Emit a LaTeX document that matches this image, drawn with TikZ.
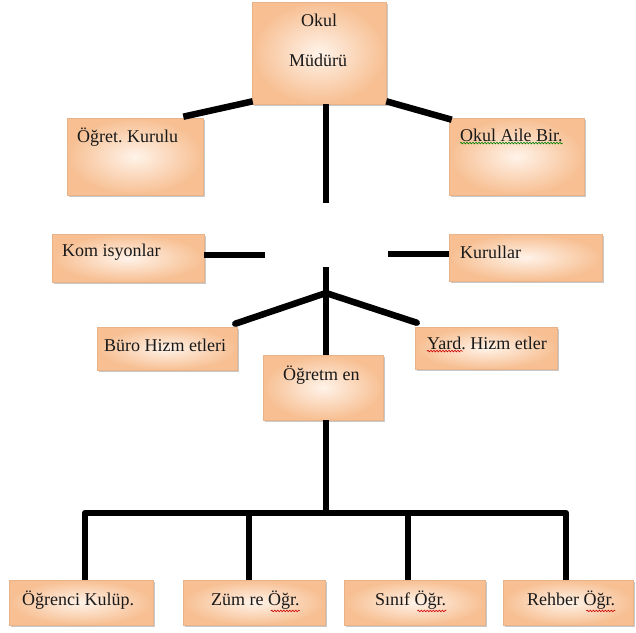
\documentclass[tikz,border=0pt]{standalone}
\usepackage{fontspec}
\setmainfont{Liberation Serif}
\usetikzlibrary{shadows,decorations.pathmorphing,calc}
\definecolor{peachout}{HTML}{F7BF92}
\definecolor{peachin}{HTML}{FFF3E9}
\definecolor{peachedge}{HTML}{E9B38A}
\tikzset{
  box/.style={rectangle, inner sep=0pt, draw=peachedge, line width=0.6pt,
    inner color=peachin, outer color=peachout,
    drop shadow={opacity=0.35, shadow xshift=1.5pt, shadow yshift=-2pt, fill=black!60}},
  lbl/.style={anchor=west, inner sep=0pt, font=\fontsize{18}{20}\selectfont\frenchspacing, text=black!90},
  clbl/.style={anchor=center, inner sep=0pt, font=\fontsize{18}{20}\selectfont, text=black!90},
  conn/.style={line width=6.5pt, black},
  squig/.style={red!80!black, line width=0.6pt, decorate,
    decoration={snake, amplitude=0.8pt, segment length=3pt}}
}
\begin{document}
\begin{tikzpicture}[x=1pt,y=-1pt]
\useasboundingbox (0,0) rectangle (636,632);
\fill[white] (0,0) rectangle (636,632);
% boxes
\node[box, minimum width=134, minimum height=102] (mud) at (319,53) {};
\node[box, minimum width=136, minimum height=77] (ogk) at (135,156.5) {};
\node[box, minimum width=135, minimum height=77] (oab) at (516.5,156.5) {};
\node[box, minimum width=152, minimum height=48] (kom) at (128,258) {};
\node[box, minimum width=153, minimum height=47] (kur) at (525.5,257.5) {};
\node[box, minimum width=140, minimum height=43] (buro) at (167,348.5) {};
\node[box, minimum width=142, minimum height=42] (yard) at (486,348) {};
\node[box, minimum width=120, minimum height=65] (ogt) at (323,387.5) {};
\node[box, minimum width=144, minimum height=45] (b1) at (81,602.5) {};
\node[box, minimum width=142, minimum height=45] (b2) at (254,602.5) {};
\node[box, minimum width=141, minimum height=45] (b3) at (414.5,602.5) {};
\node[box, minimum width=130, minimum height=45] (b4) at (568,602.5) {};
% texts
\node[clbl] (t1a) at (319,20) {Okul};
\node[clbl] (t1b) at (318,60) {Müdürü};
\node[lbl] (t2) at (77,137) {Öğret. Kurulu};
\node[lbl] (t3) at (460,135) {Okul Aile Bir.};
\node[lbl] (t4) at (62,252) {Kom isyonlar};
\node[lbl] (t5) at (460,252) {Kurullar};
\node[lbl] (t6) at (104,345) {Büro Hizm etleri};
\node[lbl] (t7) at (427,343) {Yard. Hizm etler};
\node[lbl] (t8) at (283,375) {Öğretm en};
\node[lbl] (t9) at (22,600) {Öğrenci Kulüp.};
\node[lbl] (t10) at (211,600) {Züm re Öğr.};
\node[lbl] (t11) at (375,600) {Sınıf Öğr.};
\node[lbl] (t12) at (527,600) {Rehber Öğr.};
% spell-check squiggles
\draw[squig, green!50!black] ($(t3.south west)+(0,1.5)$) -- ($(t3.south east)+(0,1.5)$);
\draw[squig] ($(t7.south west)+(0,1.5)$) -- ++(36,0);
\draw[squig] ($(t10.south east)+(-29,1.5)$) -- ++(29,0);
\draw[squig] ($(t11.south east)+(-29,1.5)$) -- ++(29,0);
\draw[squig] ($(t12.south east)+(-29,1.5)$) -- ++(29,0);
% junction coordinates
\coordinate (j1) at (326,203);
\coordinate (j2a) at (265,255);
\coordinate (j2b) at (388,254);
\coordinate (j3top) at (326,267);
\coordinate (j3) at (326,293);
\coordinate (j4) at (326,513);
\coordinate (hl) at (85,513);
\coordinate (hr) at (566,513);
\coordinate (v2) at (249,513);
\coordinate (v3) at (408,513);
% connectors
\draw[conn] ($(mud.south west)+(1,-3)$) -- ($(ogk.north east)+(-20,-1)$);
\draw[conn] ($(mud.south east)+(0,-3)$) -- ($(oab.north west)+(3,2)$);
\draw[conn] (mud.south -| j1) -- (j1);
\draw[conn] (kom.east |- j2a) -- (j2a);
\draw[conn] (j2b) -- (kur.west |- j2b);
\draw[conn] (j3top) -- (ogt.north -| j3top);
\draw[conn, line cap=round] (j3) -- ($(buro.north east)+(-2,-3)$);
\draw[conn, line cap=round] (j3) -- ($(yard.north west)+(2,-4)$);
\draw[conn] (ogt.south -| j4) -- (j4);
\draw[conn, line join=round] (b1.north -| hl) -- (hl) -- (hr) -- (b4.north -| hr);
\draw[conn] (v2) -- (v2 |- b2.north);
\draw[conn] (v3) -- (v3 |- b3.north);
\end{tikzpicture}
\end{document}
